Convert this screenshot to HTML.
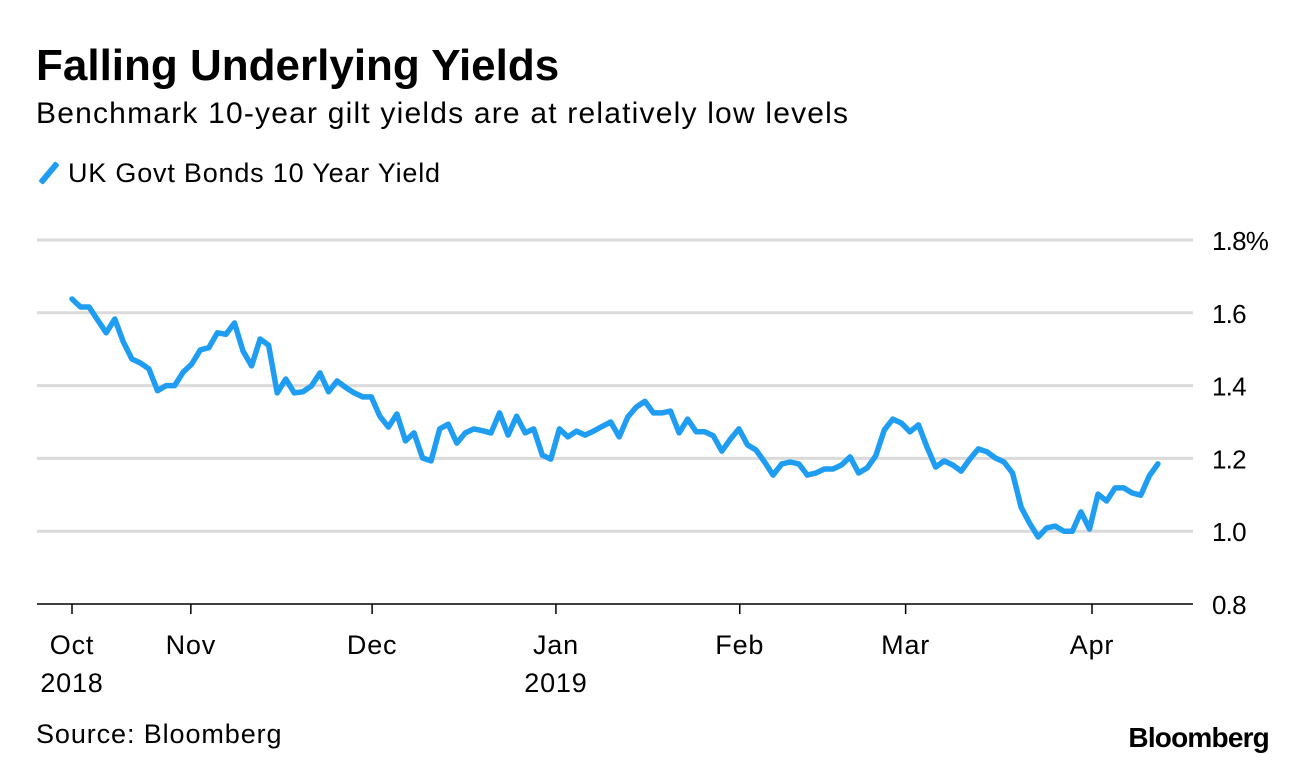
<!DOCTYPE html>
<html><head><meta charset="utf-8"><style>
body{margin:0;width:1296px;height:768px;background:#fff;font-family:"Liberation Sans",sans-serif;overflow:hidden;position:relative}
.t{position:absolute;white-space:nowrap;color:#000}
</style></head><body>
<div class="t" style="left:36px;top:41px;font-size:44px;font-weight:bold;letter-spacing:0px">Falling Underlying Yields</div>
<div class="t" style="left:36px;top:97px;font-size:30px;letter-spacing:1.2px">Benchmark 10-year gilt yields are at relatively low levels</div>
<div class="t" style="left:36px;top:158px;font-size:27px;letter-spacing:0.8px"><span style="display:inline-block;width:6px;height:26px;background:#1e9df2;transform:rotate(40deg);margin:0 16px 0 10px;vertical-align:-4px;border-radius:2px"></span>UK Govt Bonds 10 Year Yield</div>
<svg id="chart" width="1296" height="768" style="position:absolute;left:0;top:0"></svg>
<div class="t" style="left:36px;top:719px;font-size:27px;letter-spacing:0.9px">Source: Bloomberg</div>
<div class="t" style="right:27px;top:722px;font-size:28px;font-weight:bold;letter-spacing:-0.8px">Bloomberg</div>
<script>
const dayIdx=[0,1,2,3,4,5,6,7,8,9,10,11,12,13,14,15,16,17,18,19,20,21,22,23,24,25,26,27,28,29,30,31,32,33,34,35,36,37,38,39,40,41,42,43,44,45,46,47,48,49,50,51,52,53,54,55,56,57,58,59,60,61,62,63,64,65,66,67,68,69,70,71,72,73,74,75,76,77,78,79,80,81,82,83,84,85,86,87,88,89,90,91,92,93,94,95,96,97,98,99,100,101,102,103,104,105,106,107,108,109,110,111,112,113,114,115,116,117,118,119,120,121,122,123,124,125,126,127];
const yields=[1.638,1.616,1.616,1.58,1.545,1.583,1.52,1.473,1.462,1.446,1.386,1.40,1.40,1.437,1.459,1.498,1.504,1.545,1.541,1.572,1.495,1.454,1.528,1.511,1.380,1.418,1.380,1.383,1.399,1.435,1.383,1.413,1.395,1.380,1.369,1.369,1.316,1.286,1.322,1.248,1.270,1.201,1.193,1.281,1.294,1.242,1.270,1.281,1.276,1.270,1.325,1.264,1.316,1.270,1.281,1.209,1.198,1.281,1.259,1.275,1.264,1.275,1.288,1.300,1.259,1.314,1.341,1.357,1.325,1.325,1.330,1.270,1.308,1.273,1.273,1.262,1.220,1.253,1.281,1.237,1.223,1.19,1.154,1.185,1.190,1.185,1.154,1.160,1.171,1.171,1.182,1.204,1.160,1.174,1.207,1.278,1.308,1.297,1.273,1.292,1.231,1.176,1.193,1.182,1.165,1.198,1.226,1.218,1.201,1.190,1.160,1.066,1.022,0.984,1.009,1.014,1.000,1.000,1.053,1.006,1.102,1.083,1.119,1.119,1.105,1.099,1.152,1.185];
const yTicks=[0.8,1.0,1.2,1.4,1.6,1.8];
const yTickLabels=["0.8","1.0","1.2","1.4","1.6","1.8%"];
const xTickPos=[0,13.9,35.1,56.6,78.1,97.5,119.3];
const xTickLabels=[["Oct","2018"],["Nov"],["Dec"],["Jan","2019"],["Feb"],["Mar"],["Apr"]];
const svg=document.getElementById('chart');
const NS='http://www.w3.org/2000/svg';
const x=i=>72+8.55*i;
const y=v=>604-(v-0.8)/0.2*72.8;
function mk(t,a){const e=document.createElementNS(NS,t);for(const k in a)e.setAttribute(k,a[k]);svg.appendChild(e);return e;}
yTicks.forEach((v,i)=>{
 if(i>0){const g=mk('line',{x1:37,x2:1193,y1:y(v),y2:y(v),stroke:'#dadada','stroke-width':3});
 
 }
 const t=mk('text',{x:1212,y:y(v)+10,'text-anchor':'start','font-size':26,'letter-spacing':-0.8,'font-family':'Liberation Sans, sans-serif',fill:'#000'});
 t.textContent=yTickLabels[i];
 
 
});
const base=mk('line',{x1:37,x2:1193,y1:604,y2:604,stroke:'#000','stroke-width':1.5});


xTickPos.forEach((p,i)=>{
 const tk=mk('line',{x1:x(p),x2:x(p),y1:604,y2:614,stroke:'#000','stroke-width':1.5});
 
 
 xTickLabels[i].forEach((s,j)=>{
  const t=mk('text',{x:x(p),y:654+j*38,'text-anchor':'middle','font-size':27,'letter-spacing':0.8,'font-family':'Liberation Sans, sans-serif',fill:'#000'});
  t.textContent=s;
  
  
 });
});
const d=dayIdx.map((di,i)=>(i?'L':'M')+x(di).toFixed(1)+','+y(yields[i]).toFixed(1)).join('');
const path=mk('path',{d:d,fill:'none',stroke:'#1e9df2','stroke-width':5.5,'stroke-linejoin':'round','stroke-linecap':'round'});


</script>
</body></html>
